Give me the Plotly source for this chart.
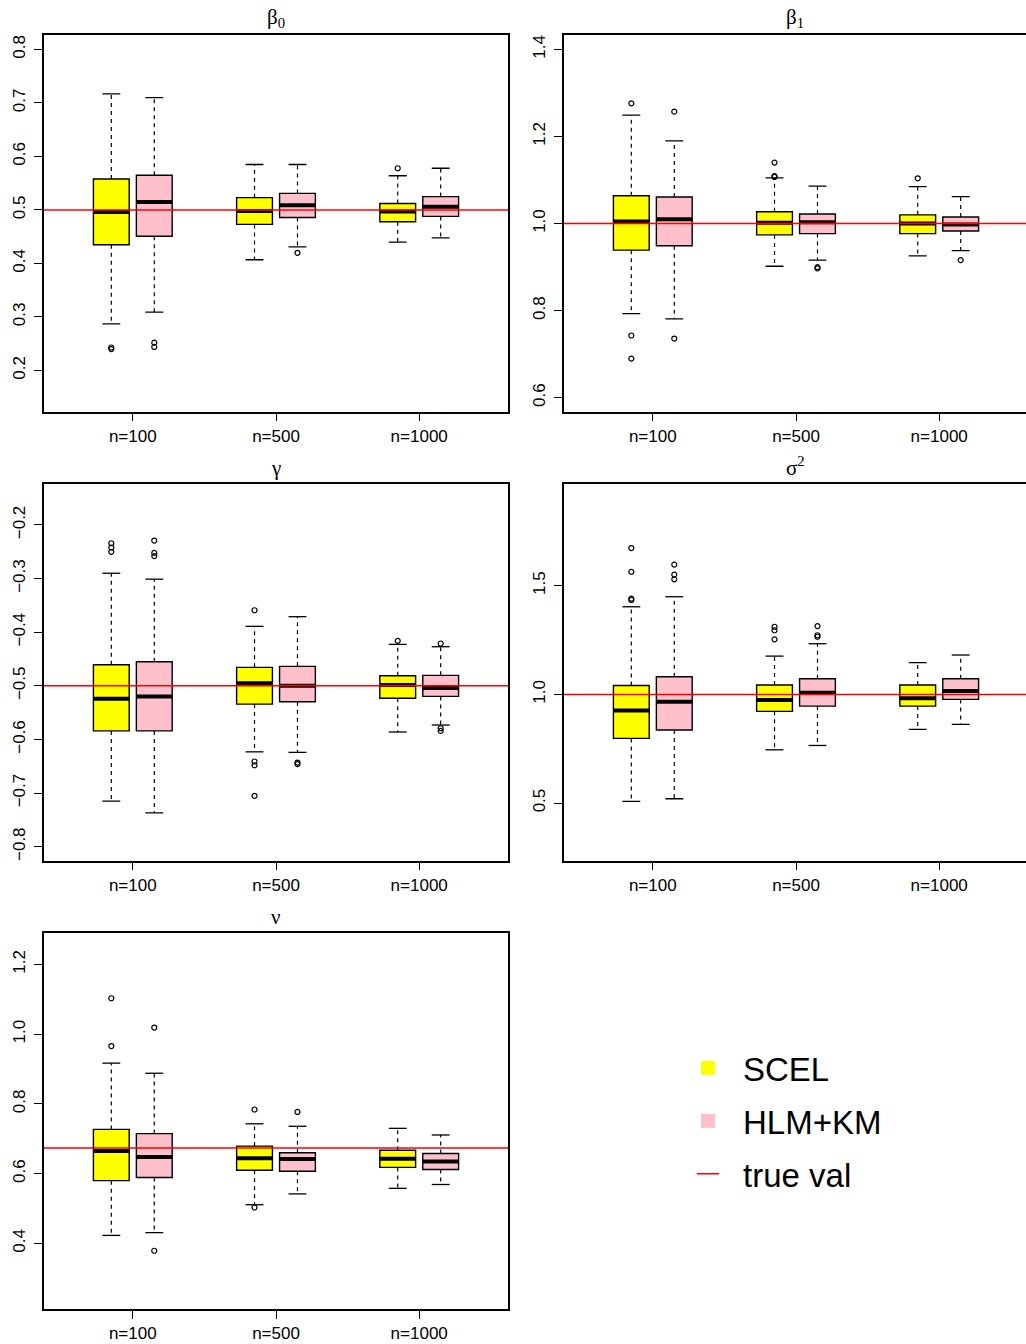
import plotly.graph_objects as go

# ---------------- data ----------------
groups = ["n=100", "n=500", "n=1000"]
group_pos = [1, 2, 3]
methods = ["SCEL", "HLM+KM"]
fill_colors = ["#FFFF00", "#FFC0CB"]
titles = ["β<sub>0</sub>", "β<sub>1</sub>", "γ", "σ<sup>2</sup>", "ν"]
true_vals = [0.5, 1.0, -0.5, 1.0, 0.674]

# five-number summaries per group: [lower whisker, Q1, median, Q3, upper whisker]
b0_scel = [[0.287, 0.435, 0.496, 0.558, 0.717], [0.407, 0.473, 0.498, 0.523, 0.585], [0.440, 0.478, 0.497, 0.512, 0.564]]
b0_hlm = [[0.309, 0.451, 0.515, 0.565, 0.710], [0.431, 0.486, 0.509, 0.531, 0.585], [0.448, 0.488, 0.506, 0.525, 0.578]]
b0_scel_out = [[0.243, 0.240], [], [0.578]]
b0_hlm_out = [[0.252, 0.244], [0.420], []]

b1_scel = [[0.793, 0.939, 1.005, 1.064, 1.249], [0.902, 0.974, 1.002, 1.027, 1.105], [0.926, 0.977, 1.000, 1.020, 1.085]]
b1_hlm = [[0.781, 0.949, 1.010, 1.061, 1.190], [0.916, 0.977, 1.003, 1.022, 1.086], [0.938, 0.983, 0.998, 1.015, 1.062]]
b1_scel_out = [[1.276, 0.743, 0.690], [1.140, 1.109, 1.107], [1.104]]
b1_hlm_out = [[1.257, 0.736], [0.900, 0.897], [0.916]]

g_scel = [[-0.715, -0.584, -0.524, -0.4605, -0.290], [-0.623, -0.534, -0.495, -0.4655, -0.389], [-0.586, -0.523, -0.4985, -0.481, -0.4226]]
g_hlm = [[-0.737, -0.584, -0.520, -0.455, -0.301], [-0.624, -0.5295, -0.4997, -0.4636, -0.371], [-0.573, -0.5196, -0.504, -0.4804, -0.427]]
g_scel_out = [[-0.234, -0.242, -0.250], [-0.359, -0.641, -0.648, -0.705], [-0.416]]
g_hlm_out = [[-0.229, -0.252, -0.258], [-0.643, -0.646], [-0.421, -0.579, -0.584]]

s2_scel = [[0.508, 0.7975, 0.926, 1.041, 1.403], [0.745, 0.922, 0.974, 1.043, 1.176], [0.839, 0.946, 0.982, 1.043, 1.146]]
s2_hlm = [[0.520, 0.836, 0.966, 1.081, 1.449], [0.765, 0.946, 1.008, 1.072, 1.233], [0.862, 0.977, 1.015, 1.072, 1.181]]
s2_scel_out = [[1.673, 1.564, 1.440, 1.434], [1.311, 1.295, 1.253], []]
s2_hlm_out = [[1.597, 1.551, 1.529], [1.314, 1.272, 1.265], []]

nu_scel = [[0.423, 0.580, 0.665, 0.727, 0.917], [0.511, 0.610, 0.644, 0.679, 0.743], [0.558, 0.618, 0.643, 0.667, 0.730]]
nu_hlm = [[0.431, 0.589, 0.648, 0.715, 0.888], [0.542, 0.607, 0.642, 0.660, 0.736], [0.569, 0.612, 0.635, 0.658, 0.711]]
nu_scel_out = [[1.103, 0.966], [0.784, 0.503], []]
nu_hlm_out = [[1.019, 0.379], [0.777], []]

# y tick values per panel
b0_ticks = [0.2, 0.3, 0.4, 0.5, 0.6, 0.7, 0.8]
b1_ticks = [0.6, 0.8, 1.0, 1.2, 1.4]
g_ticks = [-0.8, -0.7, -0.6, -0.5, -0.4, -0.3, -0.2]
s2_ticks = [0.5, 1.0, 1.5]
nu_ticks = [0.4, 0.6, 0.8, 1.0, 1.2]

# ---------------- layout constants ----------------
W, H = 1026, 1344
offsets = [-0.15, 0.15]
box_w = 0.25
cap_half = 0.0625

panel_stats = [(b0_scel, b0_hlm), (b1_scel, b1_hlm), (g_scel, g_hlm), (s2_scel, s2_hlm), (nu_scel, nu_hlm)]
panel_outs = [(b0_scel_out, b0_hlm_out), (b1_scel_out, b1_hlm_out), (g_scel_out, g_hlm_out),
              (s2_scel_out, s2_hlm_out), (nu_scel_out, nu_hlm_out)]
panel_ticks = [b0_ticks, b1_ticks, g_ticks, s2_ticks, nu_ticks]
panel_yrange = [[0.123, 0.827], [0.568, 1.433], [-0.826, -0.123], [0.235, 1.969], [0.212, 1.291]]

col_px = [(44, 508), (564, 1026)]
row_px = [(35, 411.7), (483.7, 860.7), (932.7, 1309)]
px_per_unit = 464 / 3.24

fig = go.Figure()
font_main = "Liberation Sans, Arial, Helvetica, sans-serif"
layout_axes = {}
annotations = []

for i in range(5):
    r, c = divmod(i, 2)
    sfx = "" if i == 0 else str(i + 1)
    xa, ya = "x" + sfx, "y" + sfx
    x0, x1 = col_px[c]
    y0, y1 = row_px[r]
    xr_right = 0.38 + (x1 - x0) / px_per_unit
    layout_axes["xaxis" + sfx] = dict(
        domain=[x0 / W, x1 / W], anchor=ya, range=[0.38, xr_right], type="linear",
        tickvals=group_pos, ticktext=groups, ticks="outside", ticklen=8, tickwidth=1.2,
        tickcolor="black", showline=True, linecolor="black", linewidth=1.5, mirror=True,
        showgrid=False, zeroline=False, ticklabelstandoff=0,
        tickfont=dict(family=font_main, size=17, color="black"))
    layout_axes["yaxis" + sfx] = dict(
        domain=[1 - y1 / H, 1 - y0 / H], anchor=xa, range=panel_yrange[i],
        tickvals=panel_ticks[i], tickformat=".1f", tickangle=-90, ticks="outside", ticklen=8,
        tickwidth=1.2, tickcolor="black", showline=True, linecolor="black", linewidth=1.5,
        mirror=(c == 0), showgrid=False, zeroline=False, ticklabelstandoff=2,
        tickfont=dict(family=font_main, size=17, color="black"))

    for m in range(2):
        stats = panel_stats[i][m]
        outs = panel_outs[i][m]
        pos = [p + offsets[m] for p in group_pos]
        # whiskers (dashed) and caps
        wx, wy, cx, cy = [], [], [], []
        for p, s in zip(pos, stats):
            wx += [p, p, None, p, p, None]
            wy += [s[3], s[4], None, s[1], s[0], None]
            cx += [p - cap_half, p + cap_half, None, p - cap_half, p + cap_half, None]
            cy += [s[4], s[4], None, s[0], s[0], None]
        fig.add_trace(go.Scatter(x=wx, y=wy, mode="lines", xaxis=xa, yaxis=ya, showlegend=False,
                                 line=dict(color="black", width=1.2, dash="4px,4px"), hoverinfo="skip"))
        fig.add_trace(go.Scatter(x=cx, y=cy, mode="lines", xaxis=xa, yaxis=ya, showlegend=False,
                                 line=dict(color="black", width=1.3), hoverinfo="skip"))
        # boxes
        fig.add_trace(go.Bar(x=pos, base=[s[1] for s in stats], y=[s[3] - s[1] for s in stats],
                             width=box_w, xaxis=xa, yaxis=ya, showlegend=False,
                             marker=dict(color=fill_colors[m], line=dict(color="black", width=1.4))))
        # medians
        mx, my = [], []
        for p, s in zip(pos, stats):
            mx += [p - box_w / 2, p + box_w / 2, None]
            my += [s[2], s[2], None]
        fig.add_trace(go.Scatter(x=mx, y=my, mode="lines", xaxis=xa, yaxis=ya, showlegend=False,
                                 line=dict(color="black", width=4)))
        # outliers
        ox, oy = [], []
        for p, o in zip(pos, outs):
            ox += [p] * len(o)
            oy += o
        fig.add_trace(go.Scatter(x=ox, y=oy, mode="markers", xaxis=xa, yaxis=ya, showlegend=False,
                                 marker=dict(symbol="circle-open", size=5, color="black",
                                             line=dict(width=1.2, color="black"))))
    # true value line
    fig.add_shape(type="line", xref=xa + " domain", yref=ya, x0=0, x1=1,
                  y0=true_vals[i], y1=true_vals[i], line=dict(color="#FF0000", width=1.5), layer="above")
    annotations.append(dict(text=titles[i], xref=xa + " domain", yref=ya + " domain", x=0.5, y=1,
                            xanchor="center", yanchor="bottom", yshift=2, showarrow=False,
                            font=dict(family="Liberation Serif, DejaVu Serif, serif", size=21, color="black")))

# legend entries
for m in range(2):
    fig.add_trace(go.Scatter(x=[None], y=[None], mode="markers", name=methods[m], legendgroup=methods[m],
                             marker=dict(symbol="square", size=14, color=fill_colors[m])))
fig.add_trace(go.Scatter(x=[None], y=[None], mode="markers", name="true val", legendgroup="true",
                         marker=dict(symbol="line-ew", size=18, color="#FF0000",
                                     line=dict(color="#FF0000", width=1.5))))

fig.update_layout(
    width=W, height=H, margin=dict(l=0, r=0, t=0, b=0, autoexpand=False),
    paper_bgcolor="white", plot_bgcolor="white", barmode="overlay",
    annotations=annotations, showlegend=True,
    legend=dict(x=673 / W, y=1 - 1040 / H, xanchor="left", yanchor="top",
                font=dict(family=font_main, size=33, color="black"),
                itemwidth=60, tracegroupgap=7, bgcolor="rgba(0,0,0,0)", traceorder="grouped"),
    **layout_axes)

fig.write_html("out.html", config={"displayModeBar": False},
               post_script="document.body.style.margin='0';")
